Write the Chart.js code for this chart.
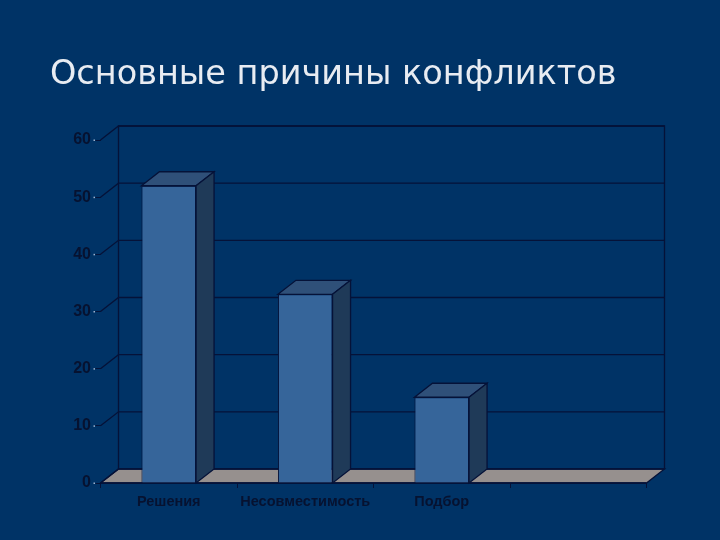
<!DOCTYPE html>
<html>
<head>
<meta charset="utf-8">
<style>
  html, body { margin: 0; padding: 0; background: #003366; }
  #wrap { width: 720px; height: 540px; }
</style>
<script src="https://cdn.jsdelivr.net/npm/chart.js@4"></script>
</head>
<body>
<div id="wrap"><canvas id="chart" width="720" height="540"></canvas></div>
<script>
// Данные диаграммы
const titleText = 'Основные причины конфликтов';
const categories = ['Решения', 'Несовместимость', 'Подбор', ''];
const values = [52, 33, 15, null];
const yTicks = [0, 10, 20, 30, 40, 50, 60];

// Смещение задней стенки (псевдо-3D)
const depthX = 18;
const depthY = 14;
const lineColor = '#051238';
const labelColor = '#061230';

function poly(ctx, pts, fill, stroke) {
  ctx.beginPath();
  pts.forEach((p, i) => (i ? ctx.lineTo(p[0], p[1]) : ctx.moveTo(p[0], p[1])));
  ctx.closePath();
  if (fill) {
    ctx.fillStyle = fill;
    ctx.fill();
  }
  if (stroke) {
    ctx.strokeStyle = stroke;
    ctx.lineWidth = 1.3;
    ctx.stroke();
  }
}

// Стенки, пол и линии сетки рисуем до столбцов
const wallsPlugin = {
  id: 'walls',
  beforeDatasetsDraw(chart) {
    const { ctx, chartArea: a, scales: { y } } = chart;
    ctx.save();
    // пол
    poly(ctx, [[a.left, a.bottom], [a.left + depthX, a.bottom - depthY],
      [a.right + depthX, a.bottom - depthY], [a.right, a.bottom]], '#96908e', lineColor);
    // задняя стенка
    poly(ctx, [[a.left + depthX, a.top - depthY], [a.right + depthX, a.top - depthY],
      [a.right + depthX, a.bottom - depthY], [a.left + depthX, a.bottom - depthY]], null, lineColor);
    // линии сетки
    ctx.strokeStyle = lineColor;
    ctx.lineWidth = 1.3;
    yTicks.forEach((t) => {
      const py = y.getPixelForValue(t);
      ctx.beginPath();
      ctx.moveTo(a.left, py);
      ctx.lineTo(a.left + depthX, py - depthY);
      if (t > 0) ctx.lineTo(a.right + depthX, py - depthY);
      ctx.stroke();
      // светлая точка у подписи
      ctx.fillStyle = '#9db4d0';
      ctx.fillRect(a.left - 7, py - 0.5, 1.5, 1.5);
    });
    // передний край пола
    ctx.beginPath();
    ctx.moveTo(a.left, a.bottom);
    ctx.lineTo(a.right, a.bottom);
    ctx.stroke();
    ctx.restore();
  },
  // Верхняя и боковая грани столбцов
  afterDatasetsDraw(chart) {
    const { ctx, scales: { y } } = chart;
    const base = y.getPixelForValue(0);
    ctx.save();
    chart.getDatasetMeta(0).data.forEach((bar, i) => {
      if (values[i] === null) return;
      const l = bar.x - bar.width / 2;
      const r = bar.x + bar.width / 2;
      poly(ctx, [[l, bar.y], [l + depthX, bar.y - depthY], [r + depthX, bar.y - depthY], [r, bar.y]],
        '#2f5079', lineColor);
      poly(ctx, [[r, bar.y], [r + depthX, bar.y - depthY], [r + depthX, base - depthY], [r, base]],
        '#1f3a58', lineColor);
    });
    ctx.restore();
  },
};

new Chart(document.getElementById('chart').getContext('2d'), {
  type: 'bar',
  data: {
    labels: categories,
    datasets: [
      {
        data: values,
        backgroundColor: '#36659a',
        borderColor: lineColor,
        borderWidth: 1,
        categoryPercentage: 1,
        barPercentage: 0.4,
      },
    ],
  },
  plugins: [wallsPlugin],
  options: {
    responsive: false,
    animation: false,
    layout: { padding: { left: 50, right: 73.5, top: 0, bottom: 0 } },
    plugins: {
      legend: { display: false },
      tooltip: { enabled: false },
      title: {
        display: true,
        text: titleText,
        align: 'start',
        color: '#e8ecf2',
        font: { family: '"DejaVu Sans"', size: 33.5, weight: 'normal' },
        padding: { top: 55, bottom: 44.8 },
      },
    },
    scales: {
      x: {
        afterFit: (s) => { s.height = 57; },
        grid: { drawOnChartArea: false, color: lineColor, tickLength: 5 },
        border: { display: false },
        ticks: {
          color: labelColor,
          font: { family: '"Liberation Sans"', size: 14.5, weight: 'bold' },
          maxRotation: 0,
          autoSkip: false,
          padding: 5,
        },
      },
      y: {
        min: 0,
        max: 60,
        afterFit: (s) => { s.width = 50.5; },
        afterBuildTicks: (s) => { s.ticks = yTicks.map((v) => ({ value: v })); },
        grid: { drawOnChartArea: false, color: lineColor, tickLength: 5 },
        border: { display: false },
        ticks: {
          color: labelColor,
          font: { family: '"Liberation Sans"', size: 16, weight: 'bold' },
          padding: 4.5,
        },
      },
    },
  },
});
</script>
</body>
</html>
